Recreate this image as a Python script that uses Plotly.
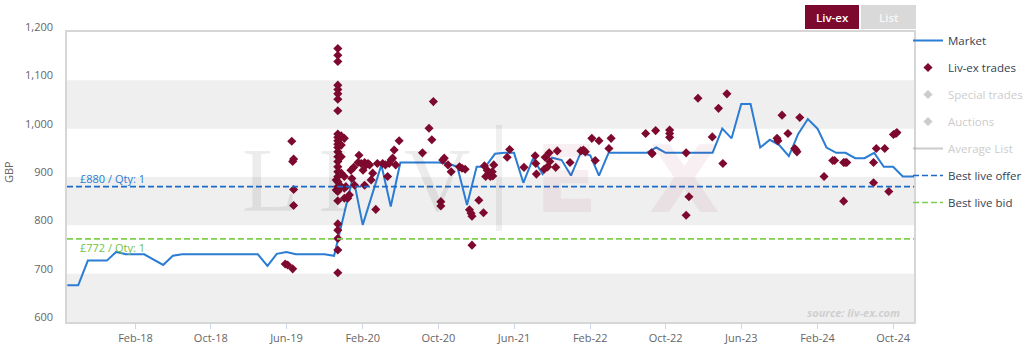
import plotly.graph_objects as go

# ---------------- data ----------------
market_dates = [
    "2017-06-27", "2017-08-01", "2017-09-01", "2017-11-01", "2017-12-01", "2018-01-01",
    "2018-03-01", "2018-05-01", "2018-06-01", "2018-07-01", "2019-03-01", "2019-04-01",
    "2019-05-01", "2019-06-01", "2019-07-01", "2019-10-01", "2019-11-01", "2020-01-01",
    "2020-02-01", "2020-04-01", "2020-05-01", "2020-06-01", "2020-10-01", "2020-11-01",
    "2020-12-01", "2021-01-01", "2021-02-01", "2021-03-01", "2021-04-01", "2021-05-01",
    "2021-06-01", "2021-07-01", "2021-08-01", "2021-09-01", "2021-10-01", "2021-11-01",
    "2021-12-01", "2022-01-01", "2022-02-01", "2022-03-01", "2022-04-01", "2022-08-01",
    "2022-09-01", "2022-10-01", "2023-03-01", "2023-04-01", "2023-05-01", "2023-06-01",
    "2023-07-01", "2023-08-01", "2023-09-01", "2023-10-01", "2023-11-01", "2023-12-01",
    "2024-01-01", "2024-02-01", "2024-03-01", "2024-04-01", "2024-05-01", "2024-06-01",
    "2024-07-01", "2024-08-01", "2024-09-01", "2024-10-01", "2024-11-01", "2024-12-07",
]
market_values = [
    676, 676, 727, 727, 745, 740,
    740, 718, 737, 740, 740, 716,
    741, 745, 740, 740, 737, 901,
    801, 925, 839, 930, 930, 928,
    921, 842, 921, 921, 948, 950,
    950, 888, 938, 906, 940, 935,
    903, 950, 945, 903, 950, 950,
    961, 950, 950, 1000, 980, 1051,
    1051, 961, 977, 966, 943, 989,
    1020, 1000, 961, 950, 950, 939,
    939, 950, 921, 921, 901, 901,
]

trade_dates = [
    "2019-05-28", "2019-06-05", "2019-06-18", "2019-06-21", "2019-06-21", "2019-06-24", "2019-06-24", "2019-06-24",
    "2019-11-13", "2019-11-13", "2019-11-13", "2019-11-13", "2019-11-13", "2019-11-13", "2019-11-13",
    "2019-11-13", "2019-11-13", "2019-11-13", "2019-11-13", "2019-11-13", "2019-11-13", "2019-11-13",
    "2019-11-13", "2019-11-13", "2019-11-13", "2019-11-13", "2019-11-13", "2019-11-13", "2019-11-13",
    "2019-11-13", "2019-11-13", "2019-11-13", "2019-11-13", "2019-11-13", "2019-11-13", "2019-11-13",
    "2019-11-08", "2019-11-08", "2019-11-24", "2019-11-24", "2019-11-24", "2019-11-24", "2019-11-24",
    "2019-12-04", "2019-12-04", "2019-12-04", "2019-12-04",
    "2019-12-09", "2019-12-15", "2019-12-20", "2019-12-25", "2019-12-28", "2020-01-03", "2020-01-06",
    "2020-01-17", "2020-01-20", "2020-01-27", "2020-02-02", "2020-02-07", "2020-02-07", "2020-02-12",
    "2020-02-18", "2020-02-23", "2020-02-28", "2020-03-04", "2020-03-14", "2020-03-19", "2020-04-05",
    "2020-04-14", "2020-04-21", "2020-04-26", "2020-05-02", "2020-05-07", "2020-05-12", "2020-05-17",
    "2020-05-28", "2020-08-11", "2020-09-01", "2020-09-10", "2020-09-15", "2020-10-09", "2020-10-09",
    "2020-10-15", "2020-10-20", "2020-11-01", "2020-11-11", "2020-12-08", "2020-12-16", "2020-12-26",
    "2021-01-09", "2021-01-14", "2021-01-17", "2021-01-17", "2021-02-08", "2021-02-23", "2021-02-26",
    "2021-03-02", "2021-03-07", "2021-03-12", "2021-03-17", "2021-03-23", "2021-03-25", "2021-03-28",
    "2021-05-10", "2021-05-18", "2021-07-03", "2021-08-08", "2021-08-10", "2021-08-12", "2021-09-06",
    "2021-09-09", "2021-09-17", "2021-09-22", "2021-09-24", "2021-10-13", "2021-10-18", "2021-11-28",
    "2022-01-02", "2022-01-10", "2022-01-16", "2022-02-06", "2022-02-17", "2022-03-01", "2022-04-02",
    "2022-04-09", "2022-07-29", "2022-08-17", "2022-08-19", "2022-08-30", "2022-10-14", "2022-10-14",
    "2022-10-14", "2022-12-06", "2022-12-06", "2022-12-15", "2023-01-13", "2023-02-28", "2023-03-20",
    "2023-04-03", "2023-04-16", "2023-09-24", "2023-09-27", "2023-10-10", "2023-10-29", "2023-11-20",
    "2023-11-24", "2023-11-27", "2023-12-06", "2024-02-22", "2024-03-21", "2024-03-27", "2024-04-25",
    "2024-04-30", "2024-05-05", "2024-04-25", "2024-07-30", "2024-07-30", "2024-08-08", "2024-09-04",
    "2024-09-17", "2024-10-02", "2024-10-10", "2024-10-13",
]
trade_values = [
    720, 718, 974, 932, 710, 937, 874, 841,
    1166, 1152, 1139, 1090, 1081, 1072, 1061,
    1037, 989, 982, 975, 968, 961, 952,
    942, 932, 921, 911, 901, 890, 880,
    870, 851, 803, 790, 773, 749, 702,
    894, 873, 985, 966, 942, 908, 880,
    980, 901, 877, 856,
    880, 856, 863, 914, 897, 920, 883,
    930, 945, 928, 914, 930, 883, 925,
    928, 925, 894, 908, 833, 928, 928,
    925, 901, 928, 935, 939, 956, 925,
    975, 950, 1001, 977, 1056, 849, 840,
    935, 939, 925, 911, 921, 918, 916,
    832, 825, 819, 759, 852, 826, 923,
    901, 914, 908, 901, 911, 902, 925,
    941, 957, 920, 944, 928, 906, 916,
    941, 921, 950, 932, 920, 954, 930,
    954, 956, 952, 980, 934, 975, 959,
    980, 990, 950, 948, 996, 997, 990,
    982, 950, 821, 859, 1063, 983, 1042,
    928, 1072, 980, 975, 1028, 990, 959,
    956, 952, 1023, 901, 934, 934, 930,
    930, 930, 850, 888, 930, 959, 959,
    870, 988, 990, 992,
]

best_offer = 880
best_offer_qty = 1
best_bid = 772
best_bid_qty = 1

x_range = ["2017-06-26", "2024-12-07"]
y_range = [600, 1200]
y_ticks = [600, 700, 800, 900, 1000, 1100, 1200]
bands = [(600, 700), (800, 900), (1000, 1100)]

legend_names = ["Market", "Liv-ex trades", "Special trades", "Auctions",
                "Average List", "Best live offer", "Best live bid"]
buttons = ["Liv-ex", "List"]
source_text = "source: liv-ex.com"

# ---------------- style ----------------
FONT = "Open Sans"
BLUE = "#2b7cd3"
OFFER_BLUE = "#1e6ac9"
GREEN = "#7dcf4c"
MAROON = "#7d0a2e"
GREY_TXT = "#666666"
LEG_TXT = "#333f55"
HIDDEN = "#9a9a9a"

# plot area in pixels (for paper-coordinate decorations)
PL, PR, PT, PB = 67, 914, 32, 322
PW, PH = PR - PL, PB - PT


def px(x):
    return (x - PL) / PW


def py(y):
    return (PB - y) / PH


fig = go.Figure()

fig.add_trace(go.Scatter(
    x=market_dates, y=market_values, mode="lines", name=legend_names[0],
    line=dict(color=BLUE, width=2), legendgroup="a"))
fig.add_trace(go.Scatter(
    x=trade_dates, y=trade_values, mode="markers", name=legend_names[1],
    marker=dict(symbol="diamond", size=7, color=MAROON), legendgroup="b"))
fig.add_trace(go.Scatter(
    x=[None], y=[None], mode="markers",
    name=f"<span style='color:{HIDDEN}'>{legend_names[2]}</span>",
    marker=dict(symbol="diamond", size=7, color=HIDDEN), visible="legendonly", legendgroup="c"))
fig.add_trace(go.Scatter(
    x=[None], y=[None], mode="markers",
    name=f"<span style='color:{HIDDEN}'>{legend_names[3]}</span>",
    marker=dict(symbol="diamond", size=7, color=HIDDEN), visible="legendonly", legendgroup="d"))
fig.add_trace(go.Scatter(
    x=[None], y=[None], mode="lines",
    name=f"<span style='color:{HIDDEN}'>{legend_names[4]}</span>",
    line=dict(color=HIDDEN, width=2), visible="legendonly", legendgroup="e"))
fig.add_trace(go.Scatter(
    x=x_range, y=[best_offer, best_offer], mode="lines", name=legend_names[5],
    line=dict(color=OFFER_BLUE, width=1.6, dash="6px,3px"), legendgroup="f"))
fig.add_trace(go.Scatter(
    x=x_range, y=[best_bid, best_bid], mode="lines", name=legend_names[6],
    line=dict(color=GREEN, width=1.6, dash="6px,3px"), legendgroup="g"))

shapes = []
for lo, hi in bands:
    shapes.append(dict(type="rect", xref="x domain", x0=0, x1=1, yref="y", y0=lo, y1=hi,
                       fillcolor="#efefef", line=dict(width=0), layer="below"))
# watermark separator bar
shapes.append(dict(type="rect", xref="paper", yref="paper",
                   x0=px(496), x1=px(502), y0=py(231), y1=py(125),
                   fillcolor="rgba(0,0,0,0.06)", line=dict(width=0), layer="below"))
# buttons
btn_cols = [MAROON, "#d9d9d9"]
btn_px = [(805, 859), (861, 916)]
for (a, b), col in zip(btn_px, btn_cols):
    shapes.append(dict(type="rect", xref="paper", yref="paper",
                       x0=px(a), x1=px(b), y0=py(29), y1=py(5),
                       fillcolor=col, line=dict(width=0)))

annotations = []
for (a, b), txt, col in zip(btn_px, buttons, ["white", "#f7f7f7"]):
    annotations.append(dict(xref="paper", yref="paper", x=px((a + b) / 2), y=py(17),
                            text=txt, showarrow=False,
                            font=dict(family=FONT, size=11.5, color=col, weight=600),
                            xanchor="center", yanchor="middle"))

annotations.append(dict(xref="x domain", x=0.013, yref="y", y=best_offer,
                        text=f"£{best_offer} / Qty: {best_offer_qty}", showarrow=False,
                        xanchor="left", yanchor="bottom", yshift=-1,
                        font=dict(family=FONT, size=11, color=BLUE)))
annotations.append(dict(xref="x domain", x=0.013, yref="y", y=best_bid,
                        text=f"£{best_bid} / Qty: {best_bid_qty}", showarrow=False,
                        xanchor="left", yanchor="top", yshift=1,
                        font=dict(family=FONT, size=11, color="#6fc33f")))

# watermark letters
wm = [("L", 270, "Liberation Serif", "rgba(0,0,0,0.075)", 400),
      ("I", 333, "Liberation Serif", "rgba(0,0,0,0.075)", 400),
      ("V", 437, "Liberation Serif", "rgba(0,0,0,0.075)", 400),
      ("E", 566, "DejaVu Sans", "rgba(128,10,50,0.065)", 700),
      ("X", 684, "DejaVu Sans", "rgba(128,10,50,0.065)", 700)]
for ch, cx, fam, col, w in wm:
    annotations.append(dict(xref="paper", yref="paper", x=px(cx), y=py(180),
                            text=ch, showarrow=False, xanchor="center", yanchor="middle",
                            font=dict(family=fam, size=92, color=col, weight=w)))

annotations.append(dict(xref="paper", yref="paper", x=px(902), y=py(312),
                        text=source_text, showarrow=False, xanchor="right", yanchor="middle",
                        font=dict(family=FONT, size=11, color="#cfcfcf", style="italic", weight=700)))

annotations.append(dict(xref="paper", yref="paper", x=px(8), y=py(172), text="GBP",
                        showarrow=False, textangle=-90, xanchor="center", yanchor="middle",
                        font=dict(family=FONT, size=11, color=GREY_TXT)))

fig.update_layout(
    width=1024, height=352,
    margin=dict(l=PL, r=1024 - PR, t=PT, b=352 - PB, autoexpand=False),
    paper_bgcolor="white", plot_bgcolor="white",
    font=dict(family=FONT, size=11, color=GREY_TXT),
    shapes=shapes, annotations=annotations,
    showlegend=True,
    legend=dict(x=px(908), xanchor="left", y=py(26), yanchor="top", maxheight=400,
                font=dict(family=FONT, size=11.5, color=LEG_TXT),
                tracegroupgap=8, bgcolor="rgba(0,0,0,0)", itemclick=False),
    xaxis=dict(type="date", range=x_range, tick0="2018-02-01", dtick="M8", tickformat="%b-%y",
               showgrid=False, zeroline=False, ticks="outside", ticklen=5, tickcolor="#ccd6eb",
               showline=True, mirror=True, linecolor="#d6d6d6", linewidth=1.5, automargin=False,
               tickfont=dict(family=FONT, size=11, color=GREY_TXT)),
    yaxis=dict(range=y_range, tickvals=y_ticks, tickformat=",", showgrid=False, zeroline=False,
               showline=True, mirror=True, linecolor="#d6d6d6", linewidth=1.5, automargin=False,
               ticks="outside", ticklen=10, tickcolor="rgba(0,0,0,0)",
               ticklabelshift=-5,
               tickfont=dict(family=FONT, size=11, color=GREY_TXT)),
)

fig.write_html("out.html")
